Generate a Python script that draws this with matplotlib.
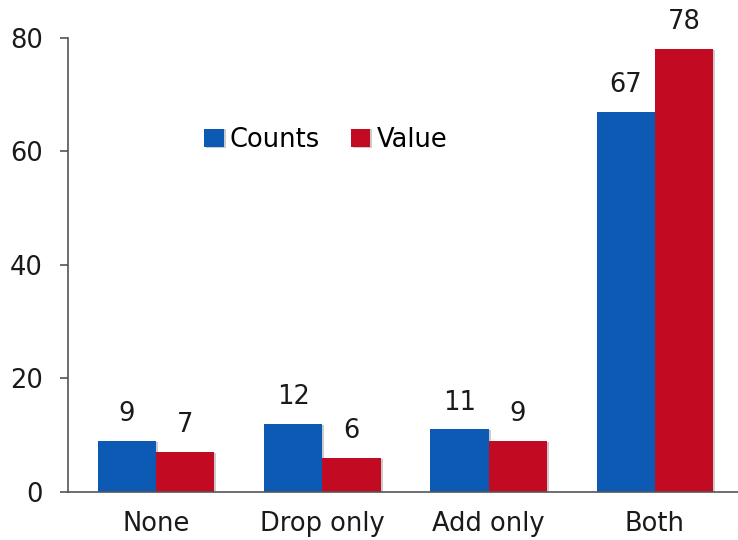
import matplotlib.pyplot as plt
import matplotlib.patheffects as pe
import numpy as np

categories = ['None', 'Drop only', 'Add only', 'Both']
counts = [9, 12, 11, 67]
value = [7, 6, 9, 78]

BLUE = '#0c5ab3'
RED = '#c20a22'
AXIS = '#555555'
FS = 18.5

plt.rcParams['font.family'] = ['DejaVu Sans']

fig = plt.figure(figsize=(7.38, 5.4), dpi=100)
ax = fig.add_axes([0.092, 0.089, 0.908, 0.841])

x = np.arange(len(categories))
w = 0.35
shadow = [pe.SimplePatchShadow(offset=(1.5, -0.5), shadow_rgbFace='#999999', alpha=0.5), pe.Normal()]

b1 = ax.bar(x - w / 2, counts, w, color=BLUE, label='Counts', path_effects=shadow)
b2 = ax.bar(x + w / 2, value, w, color=RED, label='Value', path_effects=shadow)

# value labels above each bar
for bars, vals in [(b1, counts), (b2, value)]:
    for rect, v in zip(bars, vals):
        ax.annotate(str(v), (rect.get_x() + rect.get_width() / 2, v),
                    xytext=(0, 10), textcoords='offset points',
                    ha='center', va='bottom', fontsize=FS, color='#1a1a1a',
                    annotation_clip=False)

ax.set_xlim(-0.53, 3.5)
ax.set_ylim(0, 80)
ax.set_yticks([0, 20, 40, 60, 80])
ax.set_xticks(x)
ax.set_xticklabels(categories)

for s in ['top', 'right']:
    ax.spines[s].set_visible(False)
for s in ['left', 'bottom']:
    ax.spines[s].set_color(AXIS)
    ax.spines[s].set_linewidth(1.2)

ax.tick_params(axis='y', length=6, width=1.2, color=AXIS, pad=12, labelsize=FS, labelcolor='#1a1a1a')
ax.tick_params(axis='x', length=0, pad=14, labelsize=FS, labelcolor='#1a1a1a')

ax.legend(loc='center', bbox_to_anchor=(0.385, 0.775), ncol=2, frameon=False,
          fontsize=FS, handlelength=0.75, handleheight=0.75, handletextpad=0.25,
          columnspacing=1.2)

fig.savefig('out.png', dpi=100)
